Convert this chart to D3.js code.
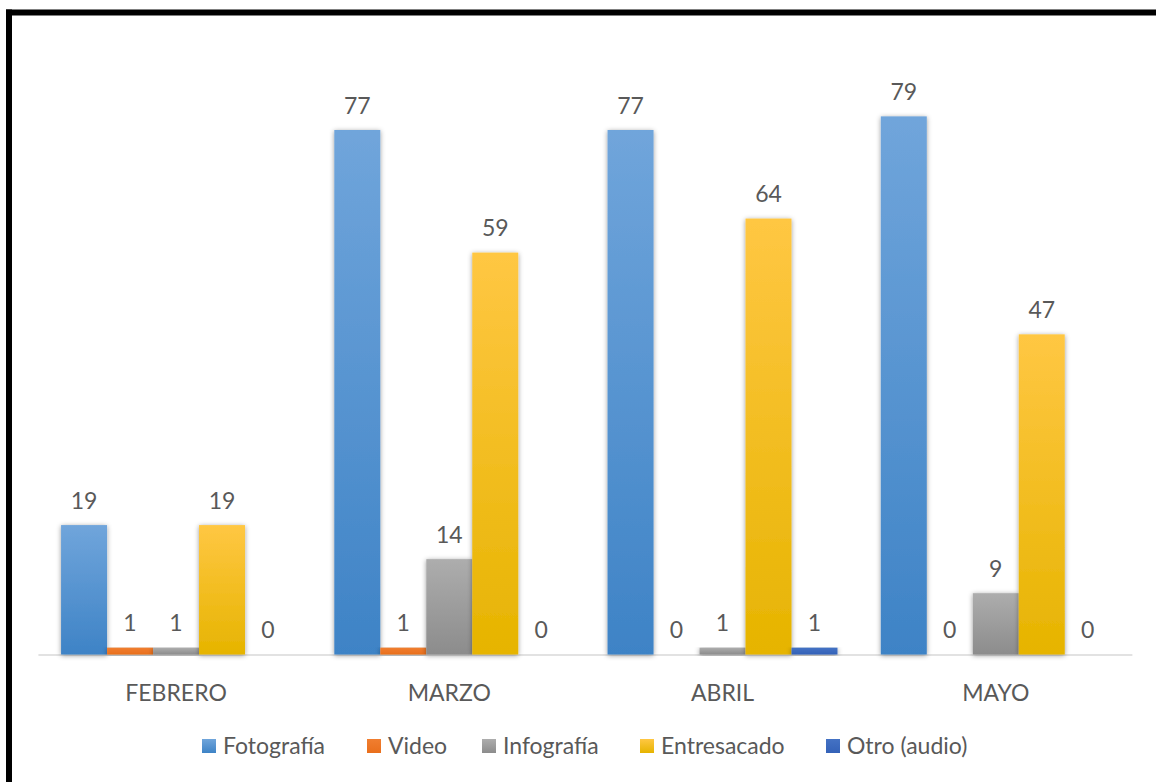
<!DOCTYPE html>
<html>
<head>
<meta charset="utf-8">
<script src="https://cdn.jsdelivr.net/npm/d3@7/dist/d3.min.js"></script>
<style>
html,body{margin:0;padding:0;background:#fff;}
svg{display:block;}
text{font-family:Lato,"Open Sans",sans-serif;fill:#595959;}
</style>
</head>
<body>
<svg id="chart" width="1156" height="782"></svg>
<script>
const categories = ["FEBRERO", "MARZO", "ABRIL", "MAYO"];
const seriesNames = ["Fotografía", "Video", "Infografía", "Entresacado", "Otro (audio)"];
const fotografia = [19, 77, 77, 79];
const video = [1, 1, 0, 0];
const infografia = [1, 14, 1, 9];
const entresacado = [19, 59, 64, 47];
const otro = [0, 0, 1, 0];
const seriesValues = [fotografia, video, infografia, entresacado, otro];

const gradTop = ["#70a5db", "#f07e30", "#adadad", "#ffc743", "#4472c4"];
const gradBot = ["#3e83c6", "#e96f1c", "#8c8c8c", "#e6b400", "#3462b8"];

const svg = d3.select("#chart");
const defs = svg.append("defs");
seriesNames.forEach((s, i) => {
  const g = defs.append("linearGradient").attr("id", "g" + i)
    .attr("x1", 0).attr("y1", 0).attr("x2", 0).attr("y2", 1);
  g.append("stop").attr("offset", "0%").attr("stop-color", gradTop[i]);
  g.append("stop").attr("offset", "100%").attr("stop-color", gradBot[i]);
});
const f = defs.append("filter").attr("id", "shadow")
  .attr("x", "-30%").attr("y", "-10%").attr("width", "160%").attr("height", "120%");
f.append("feDropShadow").attr("dx", 0).attr("dy", 1).attr("stdDeviation", 2.4)
  .attr("flood-color", "#000").attr("flood-opacity", 0.4);

// border (top and left visible)
svg.append("rect").attr("x", 6).attr("y", 9.5).attr("width", 1150).attr("height", 6).attr("fill", "#000");
svg.append("rect").attr("x", 6).attr("y", 9.5).attr("width", 6).attr("height", 773).attr("fill", "#000");

const plotLeft = 39.4, plotRight = 1132.4;
const baseY = 654.5;
const x0 = d3.scaleBand().domain(categories).range([plotLeft, plotRight]).paddingInner(0.1585).paddingOuter(0.0793);
const x1 = d3.scaleBand().domain(seriesNames).range([0, x0.bandwidth()]).padding(0);
const y = d3.scaleLinear().domain([0, 77]).range([baseY, 130]);

// axis line
svg.append("line").attr("x1", plotLeft - 1).attr("x2", plotRight).attr("y1", baseY + 0.5).attr("y2", baseY + 0.5)
  .attr("stroke", "#d9d9d9").attr("stroke-width", 1.5);

const groups = svg.append("g").selectAll("g").data(categories).join("g")
  .attr("transform", d => `translate(${x0(d)},0)`);

groups.each(function(cat, ci) {
  const g = d3.select(this);
  seriesNames.forEach((s, si) => {
    const v = seriesValues[si][ci];
    if (v > 0) {
      g.append("rect").attr("x", x1(s)).attr("width", x1.bandwidth())
        .attr("y", y(v)).attr("height", baseY - y(v))
        .attr("fill", `url(#g${si})`).attr("filter", "url(#shadow)");
    }
  });
  seriesNames.forEach((s, si) => {
    const v = seriesValues[si][ci];
    g.append("text").attr("x", x1(s) + x1.bandwidth() / 2).attr("y", y(v) - 16.5)
      .attr("text-anchor", "middle").attr("font-size", 23).text(v);
  });
});

// category labels
const xAxis = svg.append("g").attr("transform", `translate(0,${baseY})`)
  .call(d3.axisBottom(x0).tickSize(0).tickPadding(0));
xAxis.select(".domain").remove();
xAxis.selectAll("text").attr("font-size", 23).attr("dy", 0).attr("y", 46)
  .style("font-family", "Lato, 'Open Sans', sans-serif").attr("fill", "#595959");

// legend
const legendX = [202, 367, 482, 640, 826];
const legend = svg.append("g");
seriesNames.forEach((s, i) => {
  const item = legend.append("g").attr("transform", `translate(${legendX[i]},739)`);
  item.append("rect").attr("width", 14).attr("height", 14).attr("fill", `url(#g${i})`);
  item.append("text").attr("x", 21).attr("y", 15).attr("font-size", 23).text(s);
});
</script>
</body>
</html>
